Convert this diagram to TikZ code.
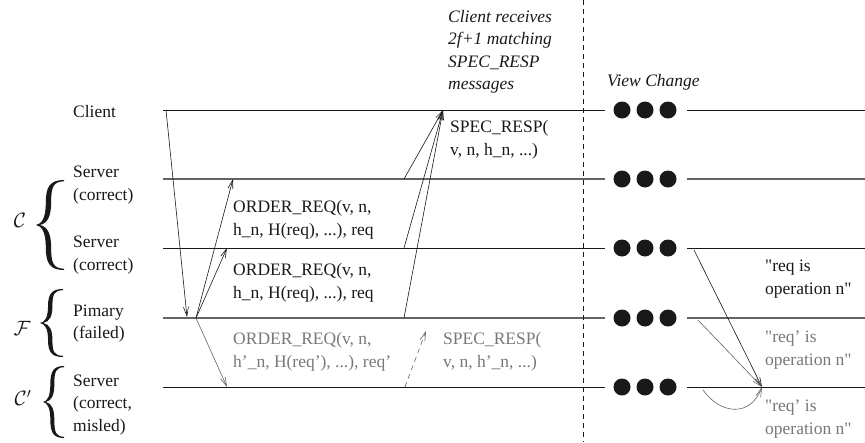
\documentclass[tikz,border=0pt]{standalone}
\usepackage{fontspec}
\setmainfont{Liberation Serif}[Ligatures=TeXOff]
\usetikzlibrary{arrows.meta}
\definecolor{ink}{RGB}{25,25,25}
\definecolor{gline}{RGB}{100,100,100}
\definecolor{gtext}{RGB}{120,120,120}
\newcommand\mybrace[4]{% #1 tip x, #2 centre y, #3 width, #4 half height
  \fill[ink] ({#1+#3},{#2-#4}) .. controls ({#1+0.5*#3},{#2-#4}) and ({#1+0.35*#3},{#2-0.85*#4}) .. ({#1+0.35*#3},{#2-0.5*#4})
    .. controls ({#1+0.35*#3},{#2-0.15*#4}) and ({#1+0.2*#3},{#2-0.02*#4}) .. (#1,#2)
    .. controls ({#1+0.2*#3},{#2+0.02*#4}) and ({#1+0.35*#3},{#2+0.15*#4}) .. ({#1+0.35*#3},{#2+0.5*#4})
    .. controls ({#1+0.35*#3},{#2+0.85*#4}) and ({#1+0.5*#3},{#2+#4}) .. ({#1+#3},{#2+#4})
    -- ({#1+#3},{#2+#4-1.2})
    .. controls ({#1+0.62*#3},{#2+0.96*#4}) and ({#1+0.54*#3},{#2+0.85*#4}) .. ({#1+0.54*#3},{#2+0.5*#4})
    .. controls ({#1+0.54*#3},{#2+0.2*#4}) and ({#1+0.42*#3},{#2+0.04*#4}) .. ({#1+0.14*#3},#2)
    .. controls ({#1+0.42*#3},{#2-0.04*#4}) and ({#1+0.54*#3},{#2-0.2*#4}) .. ({#1+0.54*#3},{#2-0.5*#4})
    .. controls ({#1+0.54*#3},{#2-0.85*#4}) and ({#1+0.62*#3},{#2-0.96*#4}) .. ({#1+#3},{#2-#4+1.2}) -- cycle;
}
\tikzset{
  lbl/.style={anchor=west, align=left, inner sep=0pt, text=ink, font=\fontsize{17.5}{22.5}\selectfont},
  glbl/.style={lbl, text=gtext},
  ilbl/.style={lbl, font=\fontsize{17.5}{22.5}\selectfont\itshape},
  cal/.style={inner sep=0pt, text=ink, font=\fontsize{21}{24}\selectfont},
  tl/.style={draw=ink, line width=0.8pt},
  gtl/.style={draw=gline, line width=1.1pt},
  msg/.style={draw=ink, line width=0.6pt, -{Straight Barb[length=9pt,width=5pt]}},
  gmsg/.style={msg, draw=gline},
  dotc/.style={circle, fill=ink, inner sep=0pt, minimum size=17pt},
}
\begin{document}
\begin{tikzpicture}[x=1pt,y=-1pt]
\useasboundingbox (0,0) rectangle (865,442);
% timelines
\foreach \n/\y/\s in {cl/110/tl, s1/179/gtl, s2/248/tl, pr/318/gtl, sp/387/tl}{
  \coordinate (\n a) at (163,\y);
  \coordinate (\n b) at (605,\y);
  \coordinate (\n c) at (687,\y);
  \coordinate (\n d) at (865,\y);
  \draw[\s] (\n a) -- (\n b);
  \draw[\s] (\n c) -- (\n d);
  \node[dotc] (\n x1) at (622,\y) {};
  \node[dotc] (\n x2) at (645,\y) {};
  \node[dotc] (\n x3) at (668,\y) {};
}
% view change divider
\coordinate (vtop) at (583,0);
\coordinate (vbot) at (583,442);
\draw[ink, line width=0.7pt, dash pattern=on 5pt off 4pt] (vtop) -- (vbot);
% left labels
\node[lbl] (lclient) at (73,112) {Client};
\node[lbl] (ls1) at (73,185) {Server\\(correct)};
\node[lbl] (ls2) at (73,255) {Server\\(correct)};
\node[lbl] (lpr) at (73,323.5) {Pimary\\(failed)};
\node[lbl] (lsp) at (73,405) {Server\\(correct,\\misled)};
% braces and set names
\mybrace{36}{225}{28}{45}
\mybrace{40}{323}{23}{34}
\mybrace{43}{402}{21}{36}
\node[cal] (setC) at (20,220) {$\mathcal{C}$};
\node[cal] (setF) at (22,328) {$\mathcal{F}$};
\node[cal] (setCp) at (23,398) {$\mathcal{C}'$};
% messages: request phase
\coordinate (m0s) at (166,110);
\coordinate (m0e) at (187,317);
\coordinate (p0) at (196,318);
\coordinate (m1e) at (233,179);
\coordinate (m2e) at (227,248);
\coordinate (m3e) at (227,387);
\draw[msg] (m0s) -- (m0e);
\draw[msg] (p0) -- (m1e);
\draw[msg] (p0) -- (m2e);
\draw[gmsg] (p0) -- (m3e);
% spec responses
\coordinate (r1) at (404,179);
\coordinate (r2) at (404,248);
\coordinate (r3) at (404,318);
\coordinate (rc) at (443,110);
\draw[msg] (r1) -- (rc);
\draw[msg] (r2) -- (rc);
\draw[msg] (r3) -- (rc);
\coordinate (rq) at (405,387);
\coordinate (rqe) at (426,331);
\draw[gmsg, dash pattern=on 5pt off 4pt] (rq) -- (rqe);
% message labels
\node[lbl] (o1) at (233,220) {ORDER\_REQ(v, n,\\h\_n, H(req), ...), req};
\node[lbl] (o2) at (233,283) {ORDER\_REQ(v, n,\\h\_n, H(req), ...), req};
\node[glbl] (o3) at (233,352) {ORDER\_REQ(v, n,\\h’\_n, H(req’), ...), req’};
\node[lbl] (sr1) at (450,140) {SPEC\_RESP(\\v, n, h\_n, ...)};
\node[glbl] (sr2) at (443,352) {SPEC\_RESP(\\v, n, h’\_n, ...)};
\node[ilbl] (note) at (448,52) {Client receives\\2f+1 matching\\SPEC\_RESP\\messages};
\node[ilbl] (vc) at (607,82) {View Change};
% after view change
\coordinate (v1) at (694,250);
\coordinate (v2) at (698,320);
\coordinate (v3) at (703,390);
\coordinate (vt) at (762,387);
\draw[msg] (v1) -- (vt);
\draw[gmsg] (v2) -- (vt);
\draw[gmsg] (v3) .. controls (720,414) and (750,418) .. (vt);
\node[lbl] (q1) at (765,279) {"req is\\operation n"};
\node[glbl] (q2) at (765,350) {"req’ is\\operation n"};
\node[glbl] (q3) at (765,419) {"req’ is\\operation n"};
\end{tikzpicture}
\end{document}
